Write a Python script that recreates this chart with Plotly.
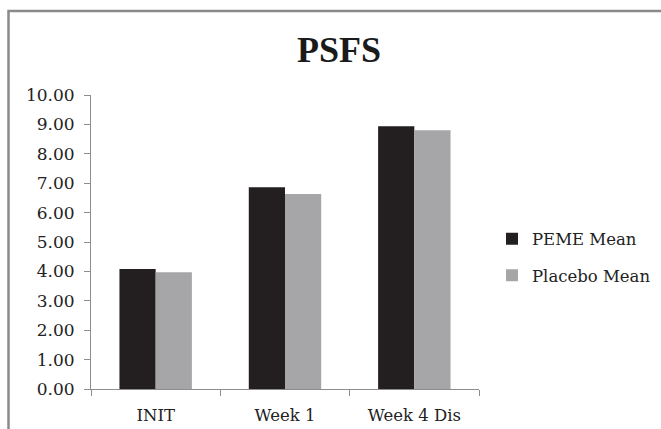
import plotly.graph_objects as go

categories = ["INIT", "Week 1", "Week 4 Dis"]
peme_mean = [4.08, 6.86, 8.94]
placebo_mean = [3.97, 6.63, 8.80]
y_ticks = [0, 1, 2, 3, 4, 5, 6, 7, 8, 9, 10]
y_tick_labels = ["%.2f" % v for v in y_ticks]

W, H = 661, 429
L, R, T, B = 91, 182, 95, 40

font_family = "DejaVu Serif"
title_font = "Liberation Serif"

fig = go.Figure()
fig.add_trace(go.Bar(x=categories, y=peme_mean, name="PEME Mean", legendgroup="a",
                     marker=dict(color="#231f20", line=dict(width=0))))
fig.add_trace(go.Bar(x=categories, y=placebo_mean, name="Placebo Mean", legendgroup="b",
                     marker=dict(color="#a6a6a8", line=dict(width=0))))

def px_x(p):
    return (p - L) / (W - L - R)

def px_y(p):
    return 1 - (p - T) / (H - T - B)

fig.update_layout(
    width=W, height=H,
    margin=dict(l=L, r=R, t=T, b=B, autoexpand=False),
    paper_bgcolor="white", plot_bgcolor="white",
    barmode="group", bargap=0.44, bargroupgap=0,
    font=dict(family=font_family, size=17, color="#222222"),
    title=dict(text="<b>PSFS</b>", x=339 / W, xanchor="center",
               y=1 - 49 / H, yanchor="middle",
               font=dict(family=title_font, size=36, color="#1a1a1a")),
    showlegend=True,
    legend=dict(x=px_x(492), xanchor="left", y=px_y(257), yanchor="middle",
                font=dict(family=font_family, size=16.5, color="#222222"),
                itemwidth=30, tracegroupgap=12, bgcolor="rgba(0,0,0,0)"),
    xaxis=dict(showline=True, linecolor="#8c8c8c", linewidth=1,
               ticks="outside", tickson="boundaries", ticklen=6,
               tickcolor="#8c8c8c", showgrid=False, zeroline=False,
               ticklabelstandoff=11, automargin=False,
               tickfont=dict(family=font_family, size=16.5, color="#222222")),
    yaxis=dict(range=[0, 10], tickvals=y_ticks, ticktext=y_tick_labels,
               showline=True, linecolor="#8c8c8c", linewidth=1,
               ticks="outside", ticklen=6, tickcolor="#8c8c8c",
               showgrid=False, zeroline=False, ticklabelstandoff=6,
               automargin=False,
               tickfont=dict(family=font_family, size=17, color="#222222")),
    shapes=[dict(type="rect", xref="paper", yref="paper",
                 x0=px_x(8.5), x1=px_x(W + 20), y0=px_y(H + 20), y1=px_y(11),
                 line=dict(color="#8a8a8a", width=2.5), fillcolor="rgba(0,0,0,0)",
                 layer="above")],
)

fig.write_html("out.html", config={"displayModeBar": False},
               post_script="document.body.style.margin='0';document.body.style.overflow='hidden';")
